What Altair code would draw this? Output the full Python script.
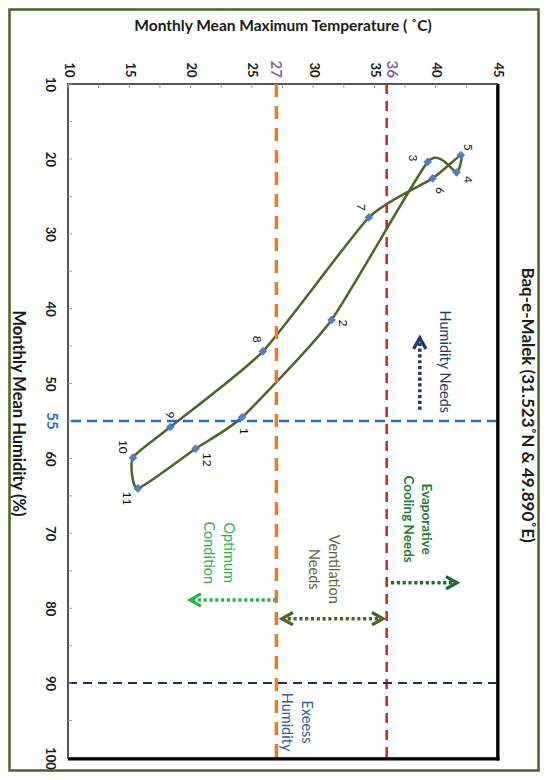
import altair as alt
import pandas as pd

# ---------------- data ----------------
months = [1, 2, 3, 4, 5, 6, 7, 8, 9, 10, 11, 12]
temp_max = [24.2, 31.5, 39.35, 41.7, 42.05, 39.75, 34.55, 25.9, 18.35, 15.3, 15.7, 20.4]
humidity = [54.5, 41.5, 20.4, 21.8, 19.5, 22.6, 27.8, 45.7, 55.8, 59.9, 64.0, 58.7]

temp_labels = [10, 15, 20, 25, 30, 35, 40, 45]
temp_ticks = [10, 12.5, 15, 17.5, 20, 22.5, 25, 27.5, 30, 32.5, 35, 37.5, 40, 42.5, 45]
hum_labels = [10, 20, 30, 40, 50, 60, 70, 80, 90, 100]
hum_ticks = [10, 15, 20, 25, 30, 35, 40, 45, 50, 55, 60, 65, 70, 75, 80, 85, 90, 95, 100]

limit_temps = ["27", "36"]
limit_hums = ["55"]

zone_names = ["Humidity Needs", "Evaporative\nCooling Needs", "Ventilation\nNeeds",
              "Optimum\nCondition", "Exeess\nHumidity"]
zone_temp = [40.7, 39.2, 31.6, 23.05, 29.4]
zone_hum = [47.1, 68.1, 74.8, 72.6, 95.2]
zone_colors = ["#1F3864", "#1E7B3C", "#5A6B2E", "#2DB34E", "#2E5C9A"]

arrow_t1 = [38.7, 36.35, 27.45, 27.0]
arrow_t2 = [38.7, 41.74, 35.7, 19.95]
arrow_h1 = [53.5, 76.6, 81.4, 78.9]
arrow_h2 = [43.9, 76.6, 81.4, 78.9]
arrow_colors = ["#1F3864", "#1E6B38", "#4F6228", "#2DB34E"]

head_t = [38.7, 41.74, 35.7, 27.45, 19.95]
head_h = [43.9, 76.6, 81.4, 81.4, 78.9]
head_dir = [270, 0, 0, 180, 180]
head_colors = ["#1F3864", "#1E6B38", "#4F6228", "#4F6228", "#2DB34E"]

# label offsets on screen (px): right, down
label_off = {1: (2, 14), 2: (11, 3), 3: (-15, -4), 4: (11, 7), 5: (7, -8), 6: (7, 12),
             7: (-8, -10), 8: (-6, -12), 9: (0, -12), 10: (-10, -11), 11: (-11, 10), 12: (12, 11)}
limit_label_shift = {"27": 0, "36": 5}

# ---------------- chart ----------------
W, HH = 429, 674
FONT = "Lato"
xs = alt.Scale(domain=[10, 45], nice=False, zero=False)
ys = alt.Scale(domain=[10, 100], reverse=True, nice=False, zero=False)

x_axis = alt.Axis(orient="top", values=temp_labels, title="Monthly Mean Maximum Temperature ( ˚C)",
                  labelAngle=90, labelAlign="right", labelBaseline="middle", labelPadding=7,
                  labelFont=FONT, labelFontSize=13, labelFontWeight="bold", labelColor="#1a1a1a",
                  labelFlush=False, labelOverlap=False, ticks=False, domain=False, grid=False,
                  titleFont=FONT, titleFontSize=15.5, titleFontWeight="bold", titleColor="#1a1a1a",
                  titleY=-59, titleBaseline="middle", titleAnchor="middle")
y_axis = alt.Axis(orient="left", values=hum_labels, title="Monthly Mean Humidity (%)",
                  labelAngle=90, labelAlign="center", labelBaseline="top", labelPadding=13,
                  labelFont=FONT, labelFontSize=13, labelFontWeight="bold", labelColor="#1a1a1a",
                  labelFlush=False, labelOverlap=False, ticks=False, domain=False, grid=False,
                  titleFont=FONT, titleFontSize=16.5, titleFontWeight="bold", titleColor="#1a1a1a",
                  titleAngle=90, titleX=-51, titleY=HH / 2 - 8, titleAlign="center", titleBaseline="middle")


def X(f):
    return alt.X(f, scale=xs, axis=x_axis)


def Y(f):
    return alt.Y(f, scale=ys, axis=y_axis)


pts = pd.DataFrame({"month": months, "T": temp_max, "H": humidity})
one = pd.DataFrame({"k": [0]})

line = alt.Chart(pts).mark_line(interpolate="cardinal-closed", tension=0.45, color="#4F6228",
                                strokeWidth=2.5).encode(
    x=X("T:Q"), y=Y("H:Q"), order=alt.Order("month:Q"))
points = alt.Chart(pts).mark_point(shape="diamond", filled=True, size=75, color="#4F81BD",
                                   opacity=1).encode(x=X("T:Q"), y=Y("H:Q"))

label_layers = []
for m in months:
    sx, sy = label_off[m]
    label_layers.append(
        alt.Chart(pts).transform_filter(alt.datum.month == m)
        .mark_text(angle=90, align="center", baseline="middle", font=FONT, fontSize=12,
                   color="#111111", dx=sy, dy=-sx)
        .encode(x=X("T:Q"), y=Y("H:Q"), text=alt.Text("month:N"))
    )

ref_df_t = pd.DataFrame({"T": [float(v) for v in limit_temps], "lab": limit_temps})
ref_df_h = pd.DataFrame({"H": [float(v) for v in limit_hums], "lab": limit_hums})

v27 = alt.Chart(ref_df_t.iloc[[0]]).mark_rule(color="#E97B2A", strokeDash=[13, 9], strokeWidth=3.5).encode(
    x=X("T:Q"))
v36 = alt.Chart(ref_df_t.iloc[[1]]).mark_rule(color="#C9252B", strokeDash=[10, 7], strokeWidth=2.5).encode(
    x=X("T:Q"))
h55 = alt.Chart(ref_df_h).mark_rule(color="#1F72C4", strokeDash=[10, 6], strokeWidth=2.5).encode(
    y=Y("H:Q"))
h90 = alt.Chart(pd.DataFrame({"H": [90.0]})).mark_rule(color="#1F2F5F", strokeDash=[9, 6],
                                                      strokeWidth=2).encode(y=Y("H:Q"))

lab_t_layers = []
for lab in limit_temps:
    lab_t_layers.append(
        alt.Chart(ref_df_t).transform_filter(alt.datum.lab == lab)
        .mark_text(angle=90, align="right", baseline="middle", font=FONT, fontSize=15,
                   fontWeight="bold", color="#7F6A9F", dy=-limit_label_shift[lab])
        .encode(x=X("T:Q"), y=alt.value(-6), text="lab:N")
    )
lab_h = alt.Chart(ref_df_h).mark_text(angle=90, align="center", baseline="top", font=FONT,
                                      fontSize=15, fontWeight="bold", color="#1F72C4").encode(
    y=Y("H:Q"), x=alt.value(-9), text="lab:N")

tick_t = alt.Chart(pd.DataFrame({"T": temp_ticks})).mark_rule(color="#9a9a9a", strokeWidth=1).encode(
    x=X("T:Q"), y=alt.value(0), y2=alt.value(4))
tick_h = alt.Chart(pd.DataFrame({"H": hum_ticks})).mark_rule(color="#9a9a9a", strokeWidth=1).encode(
    y=Y("H:Q"), x=alt.value(0), x2=alt.value(4))

zones = pd.DataFrame({"txt": zone_names, "T": zone_temp, "H": zone_hum, "c": zone_colors})
zone_norm = alt.Chart(zones).transform_filter(alt.datum.T != 39.2).mark_text(
    angle=90, align="center", baseline="middle", font=FONT, fontSize=14.5, lineBreak="\n",
    lineHeight=20).encode(
    x=X("T:Q"), y=Y("H:Q"), text="txt:N", color=alt.Color("c:N", scale=None))
zone_bold = alt.Chart(zones).transform_filter(alt.datum.T == 39.2).mark_text(
    angle=90, align="center", baseline="middle", font=FONT, fontSize=13.5, fontWeight="bold",
    lineBreak="\n", lineHeight=18).encode(
    x=X("T:Q"), y=Y("H:Q"), text="txt:N", color=alt.Color("c:N", scale=None))

arrows = pd.DataFrame({"t1": arrow_t1, "t2": arrow_t2, "h1": arrow_h1, "h2": arrow_h2, "c": arrow_colors})
shafts = alt.Chart(arrows).mark_rule(strokeDash=[3.2, 2.6], strokeWidth=3.5, strokeCap="butt").encode(
    x=X("t1:Q"), x2="t2:Q", y=Y("h1:Q"), y2="h2:Q", color=alt.Color("c:N", scale=None))
heads_df = pd.DataFrame({"T": head_t, "H": head_h, "a": head_dir, "c": head_colors})
heads = alt.Chart(heads_df).mark_point(shape="M-1.6,-0.9L0,0L-1.6,0.9", filled=False, size=190,
                                       strokeWidth=3.2, strokeJoin="miter", opacity=1).encode(
    x=X("T:Q"), y=Y("H:Q"), angle=alt.Angle("a:Q", scale=None), color=alt.Color("c:N", scale=None))

frame_r = alt.Chart(one).mark_rule(color="#000000", strokeWidth=3).encode(
    x=alt.value(W + 1), y=alt.value(0), y2=alt.value(HH + 2.5))
frame_b = alt.Chart(one).mark_rule(color="#000000", strokeWidth=3).encode(
    y=alt.value(HH + 1), x=alt.value(0), x2=alt.value(W + 2.5))
border = alt.Chart(one).mark_rect(fill="transparent", stroke="#4F6228", strokeWidth=2.5).encode(
    x=alt.value(-58.5), x2=alt.value(W + 41.5), y=alt.value(-74.5), y2=alt.value(HH + 12.5))
title = alt.Chart(one).mark_text(angle=90, align="center", baseline="middle", font=FONT, fontSize=17,
                                 fontWeight="bold", color="#1a1a1a").encode(
    x=alt.value(W + 30), y=alt.value(HH / 2 - 16), text=alt.value("Baq-e-Malek (31.523˚N & 49.890˚E)"))

chart = alt.layer(
    line, v27, v36, h55, h90, tick_t, tick_h, points, *label_layers,
    *lab_t_layers, lab_h, zone_norm, zone_bold, shafts, heads, frame_r, frame_b, border, title,
).properties(
    width=W, height=HH,
    autosize=alt.AutoSizeParams(type="none"),
    padding={"left": 60, "top": 76, "right": 43, "bottom": 14},
).configure_view(stroke="#555555", strokeWidth=2)

chart.save("out.html", embed_options={"renderer": "svg", "actions": False})
